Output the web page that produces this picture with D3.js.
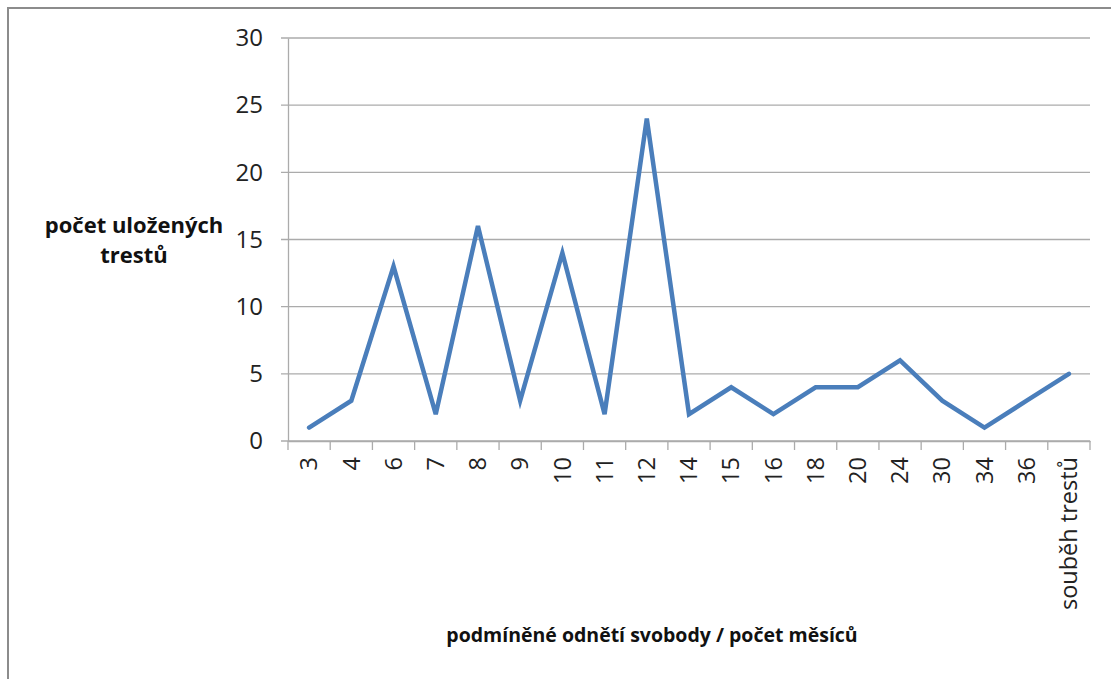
<!DOCTYPE html>
<html>
<head>
<meta charset="utf-8">
<script src="https://cdn.jsdelivr.net/npm/d3@7"></script>
<style>
  body { margin: 0; background: #fff; }
  svg { display: block; font-family: "Open Sans", sans-serif; }
</style>
</head>
<body>
<svg id="chart" width="1111" height="679"></svg>
<script>
const categories = ["3", "4", "6", "7", "8", "9", "10", "11", "12", "14", "15", "16", "18", "20", "24", "30", "34", "36", "souběh trestů"];
const counts = [1, 3, 13, 2, 16, 3, 14, 2, 24, 2, 4, 2, 4, 4, 6, 3, 1, 3, 5];
const yTicks = [0, 5, 10, 15, 20, 25, 30];

const svg = d3.select("#chart");
const margin = { left: 288, right: 21, top: 38, bottom: 238 };
const width = 1111 - margin.left - margin.right;
const height = 679 - margin.top - margin.bottom;

// outer frame (only left and top visible)
svg.append("path")
  .attr("d", "M8,679V8H1111")
  .attr("fill", "none")
  .attr("stroke", "#8c8c8c")
  .attr("stroke-width", 2);

const g = svg.append("g").attr("transform", `translate(${margin.left},${margin.top})`);

const x = d3.scaleBand().domain(categories).range([0, width]);
const y = d3.scaleLinear().domain([0, 30]).range([height, 0]);

// gridlines
g.append("g")
  .selectAll("line")
  .data(yTicks)
  .join("line")
  .attr("x1", -7)
  .attr("x2", width)
  .attr("y1", d => y(d))
  .attr("y2", d => y(d))
  .attr("stroke", "#ababab")
  .attr("stroke-width", 1.3);

// y axis
const yAxis = g.append("g")
  .call(d3.axisLeft(y).tickValues(yTicks).tickSize(0).tickPadding(25))
  .attr("font-family", "'Open Sans', sans-serif");
yAxis.select(".domain").attr("stroke", "#ababab").attr("stroke-width", 1.3);
yAxis.selectAll("text").attr("font-size", 24).attr("fill", "#222");

// x axis
const xAxis = g.append("g")
  .attr("transform", `translate(0,${height})`)
  .call(d3.axisBottom(x).tickSize(0))
  .attr("font-family", "'Open Sans', sans-serif");
xAxis.select(".domain").attr("stroke", "#ababab").attr("stroke-width", 1.3);
xAxis.selectAll(".tick line").remove();
xAxis.append("g")
  .selectAll("line")
  .data(categories.concat([null]))
  .join("line")
  .attr("x1", (d, i) => i * x.step())
  .attr("x2", (d, i) => i * x.step())
  .attr("y1", 0)
  .attr("y2", 9)
  .attr("stroke", "#ababab")
  .attr("stroke-width", 1.3);
xAxis.selectAll(".tick text")
  .attr("font-size", 23.5)
  .attr("fill", "#222")
  .attr("text-anchor", "end")
  .attr("transform", "rotate(-90)")
  .attr("x", -16)
  .attr("y", 0)
  .attr("dy", "0.35em");

// line
const line = d3.line()
  .x((d, i) => x(categories[i]) + x.bandwidth() / 2)
  .y(d => y(d));

g.append("path")
  .datum(counts)
  .attr("d", line)
  .attr("fill", "none")
  .attr("stroke", "#4a7ebb")
  .attr("stroke-width", 4.5)
  .attr("stroke-linejoin", "miter")
  .attr("stroke-linecap", "round");

// axis titles
const yTitle = svg.append("text")
  .attr("x", 134)
  .attr("y", 233)
  .attr("text-anchor", "middle")
  .attr("font-size", 22)
  .attr("font-weight", "bold")
  .attr("fill", "#111");
yTitle.append("tspan").attr("x", 134).text("počet uložených");
yTitle.append("tspan").attr("x", 134).attr("dy", 30).text("trestů");

svg.append("text")
  .attr("x", 652)
  .attr("y", 642)
  .attr("text-anchor", "middle")
  .attr("font-size", 19.5)
  .attr("font-weight", "bold")
  .attr("fill", "#111")
  .text("podmíněné odnětí svobody / počet měsíců");
</script>
</body>
</html>
